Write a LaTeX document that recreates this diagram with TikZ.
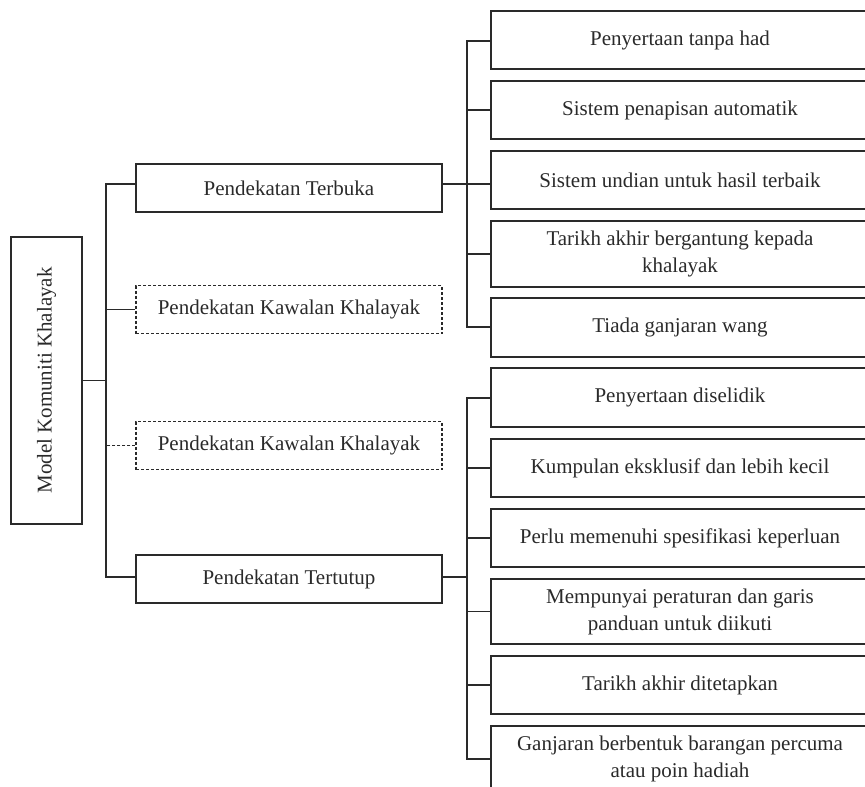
\documentclass[tikz,border=0pt]{standalone}
\usepackage{fontspec}
\setmainfont{Liberation Serif}
\definecolor{ink}{HTML}{2A2A2A}
\begin{document}
\begin{tikzpicture}[x=1pt,y=-1pt,
  every node/.style={font=\fontsize{21}{27}\selectfont, text=ink, align=center, inner sep=0pt},
  frame/.style={draw=ink, line width=1.2pt},
  lvl/.style={frame, minimum width=306pt, minimum height=48pt},
  dlvl/.style={lvl, dash pattern=on 3pt off 2pt},
  leaf/.style={frame, minimum width=378pt, minimum height=58pt},
  conn/.style={draw=ink, line width=1.2pt},
  dconn/.style={conn, dash pattern=on 3pt off 2pt}]
\useasboundingbox (0,0) rectangle (865,787);
\clip (0,0) rectangle (865,787);

\node[frame, minimum width=71pt, minimum height=287pt] (root) at (46.5,380.5) {};
\node[rotate=90] (rootlabel) at (root.center) {Model Komuniti Khalayak};

\node[lvl]  (L1) at (289,188)   {Pendekatan Terbuka};
\node[dlvl] (L2) at (289,309.5) {Pendekatan Kawalan Khalayak};
\node[dlvl] (L3) at (289,445.5) {Pendekatan Kawalan Khalayak};
\node[lvl]  (L4) at (289,579)   {Pendekatan Tertutup};

\node[leaf] (R1) at (680,40) {Penyertaan tanpa had};
\node[leaf] (R2) at (680,110) {Sistem penapisan automatik};
\node[leaf] (R3) at (680,180) {Sistem undian untuk hasil terbaik};
\node[leaf, minimum height=66pt] (R4) at (680,254) {Tarikh akhir bergantung kepada\\khalayak};
\node[leaf, minimum height=59pt] (R5) at (680,327.5) {Tiada ganjaran wang};
\node[leaf, minimum height=59pt] (R6) at (680,397.5) {Penyertaan diselidik};
\node[leaf] (R7) at (680,468) {Kumpulan eksklusif dan lebih kecil};
\node[leaf] (R8) at (680,538) {Perlu memenuhi spesifikasi keperluan};
\node[leaf, minimum height=65pt] (R9) at (680,611.5) {Mempunyai peraturan dan garis\\panduan untuk diikuti};
\node[leaf] (R10) at (680,685) {Tarikh akhir ditetapkan};
\node[leaf, minimum height=66pt] (R11) at (680,759) {Ganjaran berbentuk barangan percuma\\atau poin hadiah};

\coordinate (jT) at (106,184);
\coordinate (jB) at (106,577);
\coordinate (uT) at (467,41);
\coordinate (uB) at (467,327);
\coordinate (lT) at (467,398);
\coordinate (lB) at (467,759);

\draw[conn] (root.east) -- (root.east -| jT);
\draw[conn] (L1.west |- jT) -- (jT) -- (jB) -- (L4.west |- jB);
\draw[conn] (L2.west) -- (L2.west -| jT);
\draw[dconn] (L3.west) -- (L3.west -| jT);

\draw[conn] (R1.west |- uT) -- (uT) -- (uB) -- (R5.west |- uB);
\draw[conn] (R2.west) -- (R2.west -| uT);
\draw[conn] (R4.west) -- (R4.west -| uT);
\draw[conn] (L1.east |- jT) -- (R3.west |- jT);

\draw[conn] (R6.west |- lT) -- (lT) -- (lB) -- (R11.west |- lB);
\draw[conn] (R7.west) -- (R7.west -| lT);
\draw[conn] (R8.west) -- (R8.west -| lT);
\draw[conn] (R9.west) -- (R9.west -| lT);
\draw[conn] (R10.west) -- (R10.west -| lT);
\draw[conn] (L4.east |- jB) -- (lT |- jB);
\end{tikzpicture}
\end{document}
